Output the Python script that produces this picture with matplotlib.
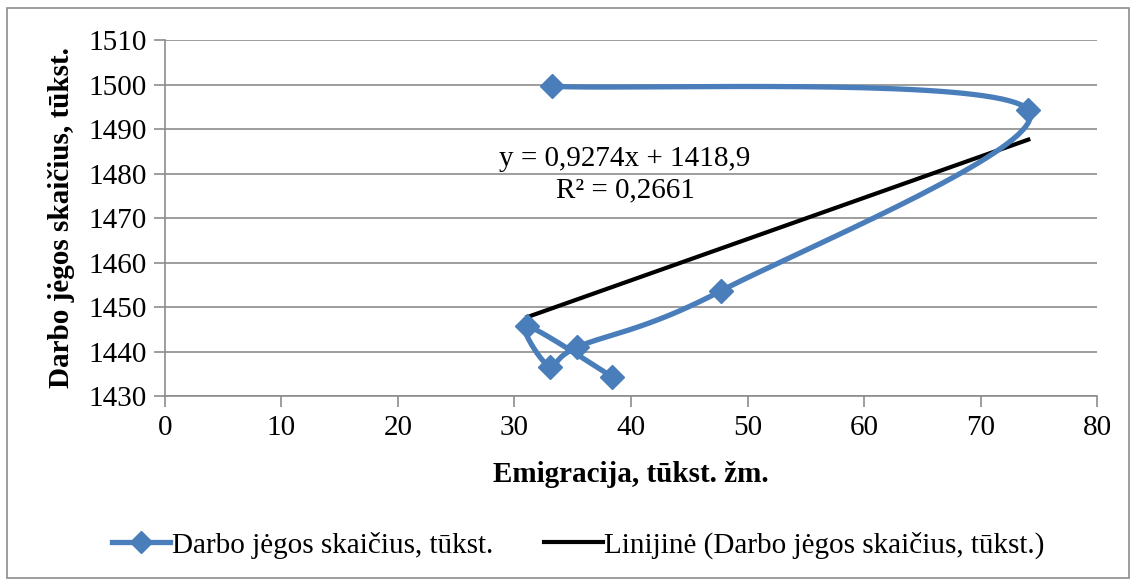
import numpy as np
import matplotlib
matplotlib.use("Agg")
import matplotlib.pyplot as plt
from matplotlib.lines import Line2D
from matplotlib.patches import Rectangle

# emigration (thousand people) vs labour force (thousand)
emigracija = [33.2, 74.1, 47.7, 35.4, 33.05, 31.1, 38.4]
darbo_jega = [1499.6, 1494.3, 1453.6, 1441.0, 1436.5, 1445.7, 1434.3]

# linear trend from the chart's equation
slope = 0.9274
intercept = 1418.9
eq_text = "y = 0,9274x + 1418,9\nR² = 0,2661"

series_name = "Darbo jėgos skaičius, tūkst."
trend_name = "Linijinė (Darbo jėgos skaičius, tūkst.)"

plt.rcParams['font.family'] = ['Liberation Serif', 'DejaVu Serif']
fs = 21

fig = plt.figure(figsize=(11.36, 5.8), dpi=100)
ax = fig.add_axes([0.1452, 0.3172, 0.8205, 0.6138])
ax.set_xlim(0, 80)
ax.set_ylim(1430, 1510)

# outer chart border
fig.patches.append(Rectangle((0.006, 0.003), 0.988, 0.983, transform=fig.transFigure,
                             fill=False, edgecolor="#8c8c8c", linewidth=1.2))


def smooth(xs, ys, n=40):
    # Excel style smoothed line: Catmull-Rom bezier in screen space
    pts = ax.transData.transform(np.column_stack([xs, ys]))
    pts = np.vstack([pts[0], pts, pts[-1]])
    out = []
    t = np.linspace(0, 1, n)[:, None]
    for i in range(1, len(pts) - 2):
        p0, p1, p2, p3 = pts[i - 1], pts[i], pts[i + 1], pts[i + 2]
        c1 = p1 + (p2 - p0) / 6
        c2 = p2 - (p3 - p1) / 6
        seg = ((1 - t) ** 3) * p1 + 3 * ((1 - t) ** 2) * t * c1 + 3 * (1 - t) * t ** 2 * c2 + t ** 3 * p2
        out.append(seg)
    out = np.vstack(out)
    data = ax.transData.inverted().transform(out)
    return data[:, 0], data[:, 1]


blue = "#4a7ebb"
sx, sy = smooth(emigracija, darbo_jega)
ax.plot(sx, sy, color=blue, linewidth=3.8, solid_capstyle="round", zorder=3)
ax.plot(emigracija, darbo_jega, linestyle="none", marker="D", markersize=12,
        color=blue, zorder=4)

tx = np.array([min(emigracija), max(emigracija)])
ax.plot(tx, slope * tx + intercept, color="black", linewidth=3, zorder=2)

ax.text(39.5, 1479.8, eq_text, ha="center", va="center", fontsize=fs,
        multialignment="center", linespacing=1.25)

ax.set_xticks(range(0, 81, 10))
ax.set_yticks(range(1430, 1511, 10))
ax.yaxis.grid(True, color="#8c8c8c", linewidth=1.2)
ax.set_axisbelow(True)
for s in ["top", "right"]:
    ax.spines[s].set_visible(False)
for s in ["left", "bottom"]:
    ax.spines[s].set_color("#8c8c8c")
    ax.spines[s].set_linewidth(1.2)
ax.tick_params(axis="both", colors="#8c8c8c", length=8, width=1.2, labelsize=fs,
               labelcolor="black")
ax.tick_params(axis="y", pad=5)
ax.tick_params(axis="x", pad=6)

ax.set_xlabel("Emigracija, tūkst. žm.", fontsize=fs, fontweight="bold", labelpad=14)
ax.set_ylabel("Darbo jėgos skaičius, tūkst.", fontsize=fs, fontweight="bold", labelpad=10)

handles = [
    Line2D([], [], color=blue, linewidth=3.8, marker="D", markersize=11),
    Line2D([], [], color="black", linewidth=3),
]
fig.legend(handles, [series_name, trend_name], loc="center", bbox_to_anchor=(0.509, 0.06),
           ncol=2, frameon=False, fontsize=fs, handlelength=2.0, handletextpad=0.05,
           columnspacing=1.75)

fig.savefig("out.png", dpi=100)
